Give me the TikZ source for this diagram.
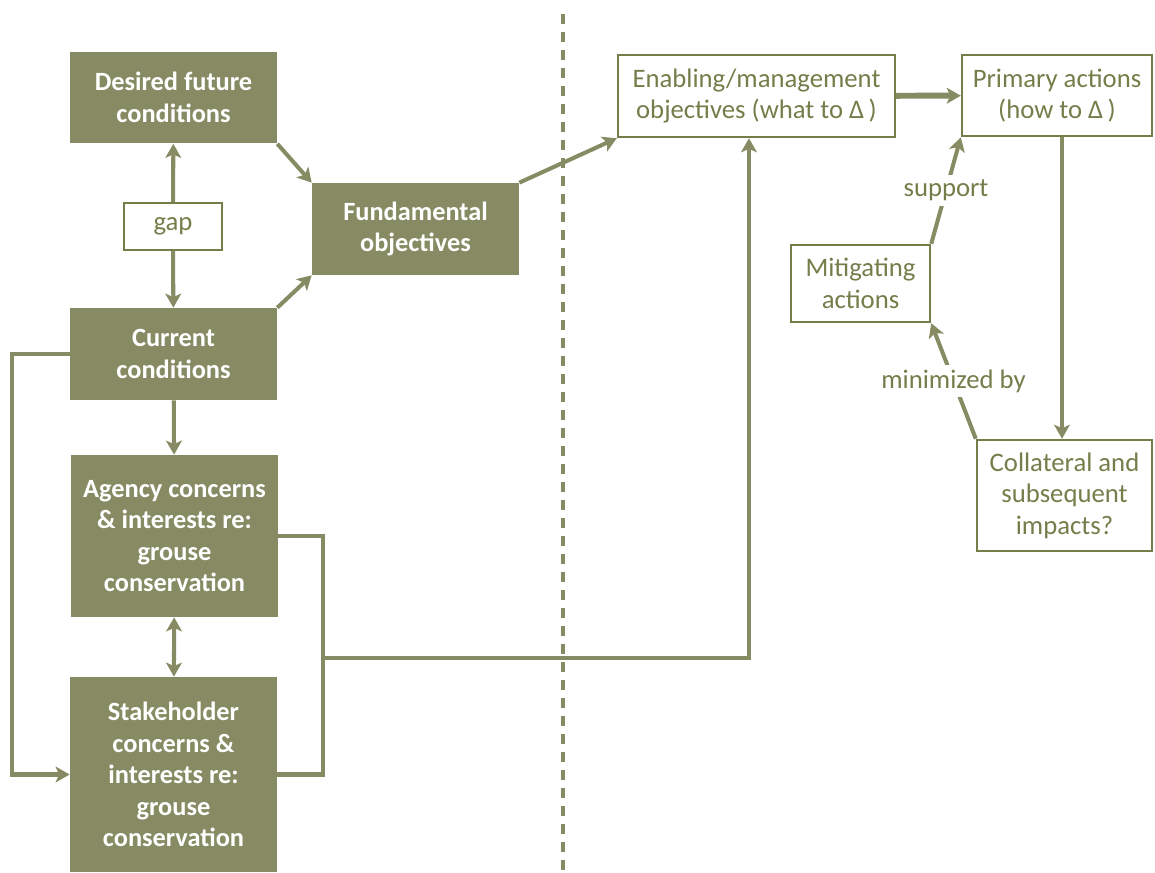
\documentclass[tikz,border=0pt]{standalone}
\usepackage{fontspec}
\setmainfont{Carlito}
\usepackage{tikz}
\usetikzlibrary{arrows.meta}
\usetikzlibrary{positioning}

\definecolor{olivefill}{RGB}{135,139,99}
\definecolor{oliveline}{RGB}{118,125,74}

\begin{document}
\begin{tikzpicture}[
                x = 0.02cm, y = -0.02cm,
                solid/.style = {fill = olivefill, text = white, align = center, inner sep = 0mm,
                    font = \fontsize{15}{18}\selectfont\bfseries, minimum width = 4.14cm},
                open/.style = {draw = oliveline, line width = 1.4pt, fill = white, text = oliveline,
                    align = center, inner sep = 0mm, font = \fontsize{15.2}{18}\selectfont},
                lbl/.style = {fill = white, text = oliveline, inner sep = 1mm,
                    font = \fontsize{15.2}{18}\selectfont},
                line/.style = {draw = olivefill, line width = 2.3pt},
                arr/.style = {line, -{Stealth[length = 8pt, width = 9pt, inset = 2pt]}},
                dbl/.style = {line, {Stealth[length = 8pt, width = 9pt, inset = 2pt]}-{Stealth[length = 8pt, width = 9pt, inset = 2pt]}},
            ]
            \useasboundingbox (0,0) rectangle (1155,872);

            % left half
            \node (desired) [solid, minimum height = 1.84cm] at (173.5,97.5) {Desired future\\conditions};
            \node (gap) [open, minimum width = 1.96cm, minimum height = 0.94cm] at (173,226.5) {gap};
            \node (current) [solid, minimum height = 1.84cm] at (173.5,354) {Current\\conditions};
            \node (fund) [solid, minimum height = 1.84cm] at (415.5,229) {Fundamental\\objectives};
            \node (agency) [solid, minimum height = 3.24cm] at (174.5,536) {Agency concerns\\\& interests re:\\grouse\\conservation};
            \node (stake) [solid, minimum height = 3.9cm] at (173.5,774.5) {Stakeholder\\concerns \&\\interests re:\\grouse\\conservation};

            \draw[olivefill, line width = 2.3pt, dash pattern = on 0.2cm off 0.16cm] (563,14) -- (563,872);

            % right half
            \node (enab) [open, minimum width = 5.54cm, minimum height = 1.64cm] at (756.5,96) {Enabling/management\\objectives (what to Δ\,)};
            \node (prim) [open, minimum width = 3.8cm, minimum height = 1.62cm] at (1057,95.5) {Primary actions\\(how to Δ\,)};
            \node (mit) [open, minimum width = 2.78cm, minimum height = 1.54cm] at (860.5,283.5) {Mitigating\\actions};
            \node (coll) [open, minimum width = 3.5cm, minimum height = 2.22cm] at (1064.5,495.5) {Collateral and\\subsequent\\impacts?};

            \coordinate (join) at (323,658);

            \path[arr] (gap) -- (desired);
            \path[arr] (gap) -- (current);
            \path[arr] (desired.south east) -- (fund.north west);
            \path[arr] (current.north east) -- (fund.south west);
            \path[arr] (current) -- (agency);
            \path[dbl] (agency) -- (stake);
            \path[arr] (current.west) -- ++(-58,0) |- (stake.west);
            \path[line] (agency.east) -- ++(45,0) |- (stake.east);
            \path[arr] (join) -| ([xshift = -0.15cm]enab.south);
            \path[arr] (fund.north east) -- (enab.south west);
            \path[arr, line width = 3.4pt] (enab) -- (prim);
            \path[arr] ([xshift = 0.1cm]prim.south) -- ([xshift = 0.1cm]prim.south |- coll.north);
            \path[arr] (coll.north west) -- node[lbl] {minimized by} (mit.south east);
            \path[arr] (mit.north east) -- node[lbl] {support} (prim.south west);
        \end{tikzpicture}
\end{document}
